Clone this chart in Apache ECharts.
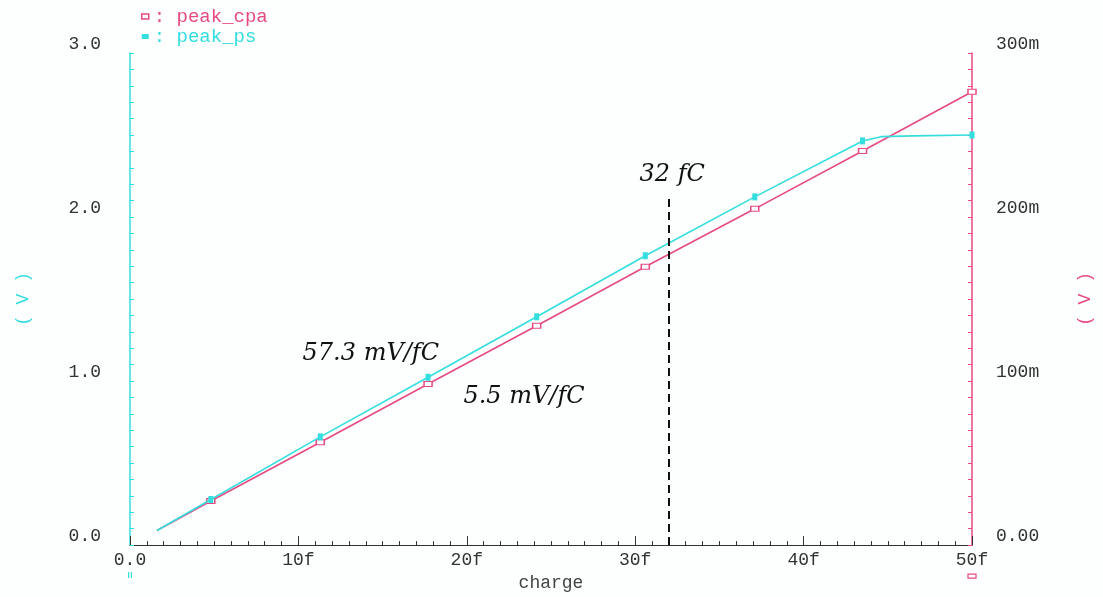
<!DOCTYPE html>
<html>
<head>
<meta charset="utf-8">
<script src="https://cdn.jsdelivr.net/npm/echarts@6/dist/echarts.min.js"></script>
<style>html,body{margin:0;padding:0;background:#fff}#c{width:1103px;height:597px}</style>
</head>
<body>
<div id="c"></div>
<script>
// charge in fC
const chargePs = [1.6, 4.8, 11.3, 17.7, 24.15, 30.6, 37.1, 43.5, 44.6, 46.5, 50];
const peakPs = [0.089, 0.278, 0.660, 1.023, 1.392, 1.764, 2.123, 2.464, 2.490, 2.495, 2.500]; // V
const psMarked = [false, true, true, true, true, true, true, true, false, false, true];
const chargeCpa = [1.6, 4.8, 11.3, 17.7, 24.15, 30.6, 37.1, 43.5, 50];
const peakCpa = [0.0089, 0.0269, 0.0627, 0.0982, 0.1337, 0.1697, 0.2050, 0.2403, 0.2764]; // V
const cpaMarked = [false, true, true, true, true, true, true, true, true];
const leftTicks = [0, 1, 2, 3];
const rightTicks = [0, 0.1, 0.2, 0.3];
const annotations = [
  { text: '57.3 mV/fC', x: 14.3, y: 1.165 },
  { text: '5.5 mV/fC', x: 23.4, y: 0.905 },
  { text: '32 fC', x: 32.2, y: 2.255 }
];
const markerCharge = 32;
const markerTop = 2.12;

const CYAN = '#35dede';
const PINK = '#e64a84';
const MONO = '"Liberation Mono", "DejaVu Sans Mono", monospace';

const chart = echarts.init(document.getElementById('c'));
const psData = chargePs.map((x, i) => ({ value: [x, peakPs[i]], symbol: psMarked[i] ? 'rect' : 'none' }));
const cpaData = chargeCpa.map((x, i) => ({ value: [x, peakCpa[i]], symbol: cpaMarked[i] ? 'rect' : 'none' }));

chart.setOption({
  animation: false,
  backgroundColor: '#fdfefe',
  legend: {
    orient: 'vertical', left: 136, top: 2, itemGap: 1, itemWidth: 7, itemHeight: 5,
    formatter: ': {name}',
    textStyle: { fontFamily: MONO, fontSize: 19 },
    data: [
      { name: 'peak_cpa', icon: 'rect', itemStyle: { color: '#fff', borderColor: PINK, borderWidth: 1.5 }, textStyle: { color: PINK } },
      { name: 'peak_ps', icon: 'rect', itemStyle: { color: CYAN }, textStyle: { color: CYAN } }
    ]
  },
  grid: { left: 130, right: 131, top: 53, bottom: 51, containLabel: false },
  xAxis: {
    type: 'value', min: 0, max: 50, interval: 10,
    name: 'charge', nameLocation: 'middle', nameGap: 28,
    nameTextStyle: { fontFamily: MONO, fontSize: 18, color: '#444' },
    axisLine: { show: true, lineStyle: { color: '#333', width: 1 } },
    axisTick: { show: true, inside: true, length: 9, lineStyle: { color: '#333' } },
    minorTick: { show: true, splitNumber: 10, length: 4, lineStyle: { color: '#333' } },
    splitLine: { show: false },
    axisLabel: { margin: 6, fontFamily: MONO, fontSize: 18, color: '#333',
      formatter: v => v === 0 ? '0.0' : v + 'f' }
  },
  yAxis: [
    {
      type: 'value', min: 0, max: 3, interval: 1, position: 'left',
      name: '( V )', nameLocation: 'middle', nameGap: 98, nameRotate: 90,
      nameTextStyle: { fontFamily: MONO, fontSize: 18, color: CYAN },
      axisLine: { show: true, lineStyle: { color: CYAN, width: 1.5 } },
      axisTick: { show: true, inside: true, length: 4, lineStyle: { color: CYAN } },
      minorTick: { show: true, splitNumber: 10, length: 4, lineStyle: { color: CYAN } },
      splitLine: { show: false },
      axisLabel: { margin: 29, fontFamily: MONO, fontSize: 18, color: '#333', verticalAlign: 'bottom',
        customValues: leftTicks, formatter: v => v.toFixed(1) }
    },
    {
      type: 'value', min: 0, max: 0.3, interval: 0.1, position: 'right',
      name: '( V )', nameLocation: 'middle', nameGap: 104, nameRotate: 90,
      nameTextStyle: { fontFamily: MONO, fontSize: 18, color: PINK },
      axisLine: { show: true, lineStyle: { color: PINK, width: 1.5 } },
      axisTick: { show: true, inside: true, length: 4, lineStyle: { color: PINK } },
      minorTick: { show: true, splitNumber: 10, length: 4, lineStyle: { color: PINK } },
      splitLine: { show: false },
      axisLabel: { margin: 24, fontFamily: MONO, fontSize: 18, color: '#333', verticalAlign: 'bottom',
        customValues: rightTicks,
        formatter: v => { const m = Math.round(v * 1000); return m === 0 ? '0.00' : m + 'm'; } }
    }
  ],
  series: [
    {
      name: 'peak_cpa', type: 'line', yAxisIndex: 1, data: cpaData,
      symbolSize: [8, 5], showAllSymbol: true,
      lineStyle: { color: PINK, width: 1.6 },
      itemStyle: { color: '#fff', borderColor: PINK, borderWidth: 1.2 },
      z: 3
    },
    {
      name: 'peak_ps', type: 'line', yAxisIndex: 0, data: psData,
      symbolSize: [5, 7], showAllSymbol: true,
      lineStyle: { color: CYAN, width: 1.6 },
      itemStyle: { color: CYAN },
      z: 4,
      markLine: {
        silent: true, symbol: 'none',
        lineStyle: { color: '#111', type: [8, 5], width: 2 },
        label: { show: false },
        data: [[{ coord: [markerCharge, 0] }, { coord: [markerCharge, markerTop] }]]
      },
      markPoint: {
        silent: true, symbol: 'circle', symbolSize: 0,
        label: { show: true, position: 'inside', fontFamily: '"DejaVu Serif", serif', fontStyle: 'italic',
          fontSize: 24, color: '#111', formatter: p => p.name },
        data: annotations.map(a => ({ name: a.text, coord: [a.x, a.y] }))
      }
    }
  ]
});

// small cursor marks beneath the x axis ends
const p0 = chart.convertToPixel({ xAxisIndex: 0, yAxisIndex: 0 }, [0, 0]);
const p1 = chart.convertToPixel({ xAxisIndex: 0, yAxisIndex: 0 }, [50, 0]);
chart.setOption({
  graphic: [
    { type: 'rect', shape: { x: p0[0] - 2, y: p0[1] + 27, width: 1.2, height: 6 }, style: { fill: CYAN } },
    { type: 'rect', shape: { x: p0[0] + 0.8, y: p0[1] + 27, width: 1.2, height: 6 }, style: { fill: CYAN } },
    { type: 'rect', shape: { x: p1[0] - 4, y: p1[1] + 29, width: 8, height: 4 }, style: { fill: '#fff', stroke: PINK, lineWidth: 1.2 } }
  ]
});
</script>
</body>
</html>
